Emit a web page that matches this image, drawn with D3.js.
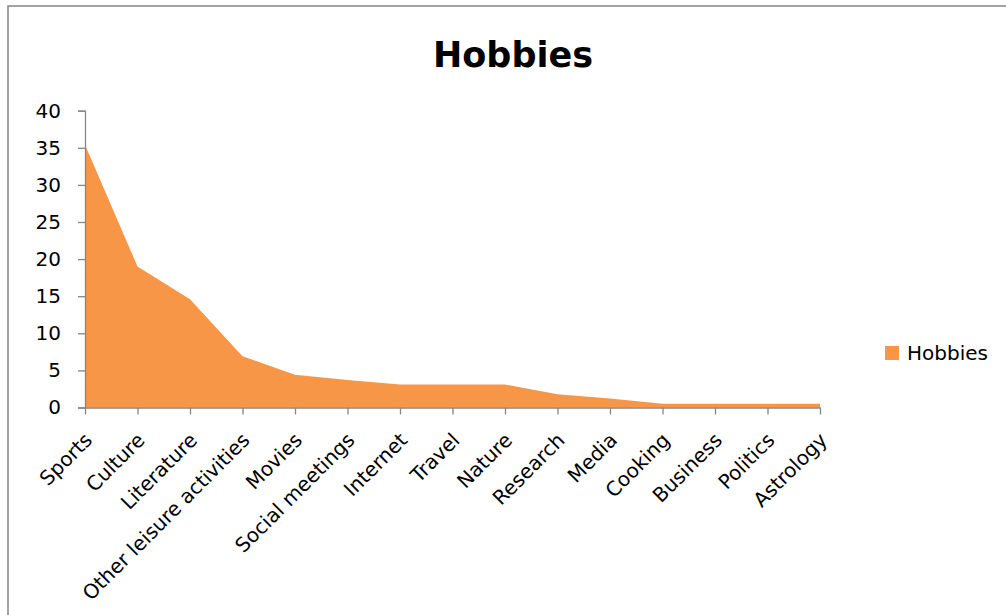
<!DOCTYPE html>
<html>
<head>
<meta charset="utf-8">
<script src="https://cdn.jsdelivr.net/npm/d3@7"></script>
<style>
  body { margin: 0; background: #fff; }
  svg text { font-family: "DejaVu Sans", sans-serif; fill: #000; }
</style>
</head>
<body>
<svg id="chart" width="1006" height="615"></svg>
<script>
// data
const categories = ["Sports", "Culture", "Literature", "Other leisure activities", "Movies",
  "Social meetings", "Internet", "Travel", "Nature", "Research", "Media", "Cooking",
  "Business", "Politics", "Astrology"];
const values = [35.4, 19, 14.6, 6.9, 4.4, 3.7, 3.1, 3.1, 3.1, 1.8, 1.2, 0.5, 0.5, 0.5, 0.5];
const yTicks = [0, 5, 10, 15, 20, 25, 30, 35, 40];
const seriesName = "Hobbies";

let svg = d3.select("#chart");

let margin = { left: 85, right: 820, top: 110.7, bottom: 407.5 };

// chart frame
svg.append("rect")
  .attr("x", 8).attr("y", 6)
  .attr("width", 1010).attr("height", 620)
  .attr("fill", "none")
  .attr("stroke", "#8c8c8c")
  .attr("stroke-width", 1.6);

svg.append("text")
  .attr("x", 513).attr("y", 67)
  .attr("text-anchor", "middle")
  .style("font-size", "35px")
  .style("font-weight", "bold")
  .text("Hobbies");

let x = d3.scalePoint().domain(categories).range([margin.left, margin.right]);
let y = d3.scaleLinear().domain([0, 40]).range([margin.bottom, margin.top]);

let area = d3.area()
  .x(function(d, i) { return x(categories[i]); })
  .y0(y(0))
  .y1(function(d) { return y(d); });

svg.append("path")
  .datum(values)
  .attr("fill", "#f79646")
  .attr("d", area);

// y axis
let yAxis = svg.append("g")
  .attr("transform", "translate(" + margin.left + ",0)")
  .call(d3.axisLeft(y).tickValues(yTicks).tickSize(7).tickPadding(17));
yAxis.select(".domain").attr("stroke", "#868686").attr("stroke-width", 1.3);
yAxis.selectAll(".tick line").attr("stroke", "#868686").attr("stroke-width", 1.3);
yAxis.selectAll("text")
  .style("font-size", "20px")
  .style("font-family", "'DejaVu Sans', sans-serif")
  .attr("fill", "#000");

// x axis
let xAxis = svg.append("g")
  .attr("transform", "translate(0," + margin.bottom + ")")
  .call(d3.axisBottom(x).tickSize(7).tickSizeOuter(0).tickPadding(0));
xAxis.select(".domain").attr("stroke", "#868686").attr("stroke-width", 1.3);
xAxis.selectAll(".tick line").attr("stroke", "#868686").attr("stroke-width", 1.3);
xAxis.selectAll("text")
  .style("font-size", "20px")
  .style("font-family", "'DejaVu Sans', sans-serif")
  .attr("fill", "#000")
  .attr("text-anchor", "end")
  .attr("dy", "0")
  .attr("transform", "translate(3,29) rotate(-45)");

// legend
let legend = svg.append("g").attr("transform", "translate(885,346)");
legend.append("rect")
  .attr("width", 14).attr("height", 14)
  .attr("fill", "#f79646");
legend.append("text")
  .attr("x", 22).attr("y", 13.5)
  .style("font-size", "20px")
  .text(seriesName);
</script>
</body>
</html>
